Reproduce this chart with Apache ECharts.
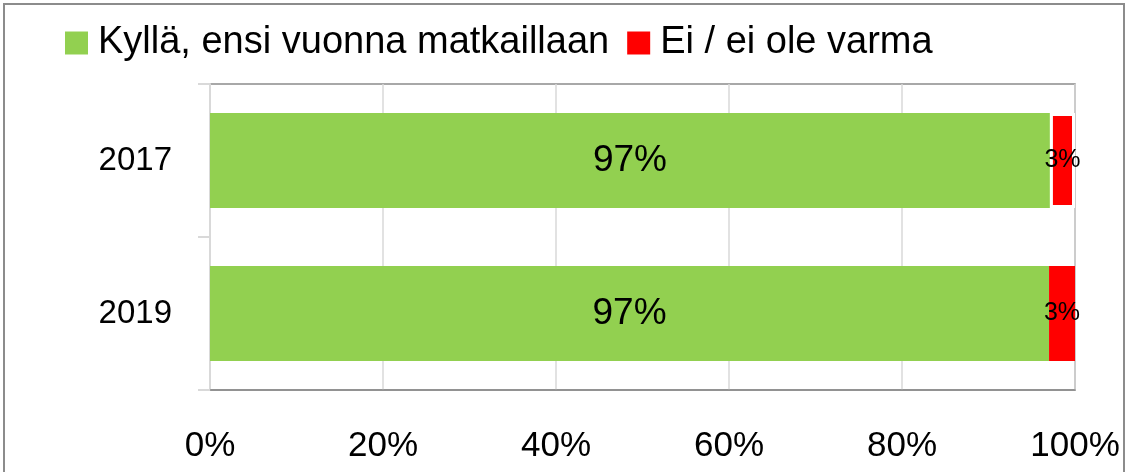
<!DOCTYPE html>
<html>
<head>
<meta charset="utf-8">
<script src="https://cdn.jsdelivr.net/npm/echarts@6/dist/echarts.min.js"></script>
<style>
html,body{margin:0;padding:0;background:#fff;}
#frame{position:absolute;left:3px;top:3px;width:1122px;height:480px;border:2px solid #8c8c8c;box-sizing:border-box;}
#chart{position:absolute;left:0;top:0;width:1130px;height:472px;}
</style>
</head>
<body>
<div id="frame"></div>
<div id="chart"></div>
<script>
const categories = ['2017', '2019'];
const seriesNames = ['Kyllä, ensi vuonna matkaillaan', 'Ei / ei ole varma'];
const yesValues = [97.1, 97.0];
const noValues = [2.9, 3.0];
const xTicks = [0, 20, 40, 60, 80, 100];

const FONT = '"Liberation Sans", Arial, sans-serif';
const chart = echarts.init(document.getElementById('chart'));
chart.setOption({
  animation: false,
  textStyle: { fontFamily: FONT },
  legend: {
    left: 60, top: 19,
    itemWidth: 23, itemHeight: 23, itemGap: 18,
    icon: 'rect',
    textStyle: { fontSize: 38, color: '#000', fontFamily: FONT, padding: [0, 0, 0, 5] },
    data: seriesNames
  },
  grid: { left: 210, right: 55, top: 84, bottom: 82, show: true, borderColor: '#8c8c8c', borderWidth: 1.5 },
  xAxis: {
    type: 'value', min: xTicks[0], max: xTicks[xTicks.length - 1], interval: 20,
    axisLine: { show: true, lineStyle: { color: '#8c8c8c', width: 1.5 } },
    axisTick: { show: false },
    splitLine: { show: true, lineStyle: { color: '#d9d9d9', width: 1.5 } },
    axisLabel: { formatter: '{value}%', fontSize: 35, color: '#000', margin: 39, fontFamily: FONT }
  },
  yAxis: {
    type: 'category', data: categories, inverse: true,
    axisLine: { show: true, lineStyle: { color: '#d9d9d9', width: 2 } },
    axisTick: { show: true, length: 12, lineStyle: { color: '#d9d9d9', width: 2 } },
    axisLabel: { fontSize: 33, color: '#000', margin: 38, fontFamily: FONT }
  },
  series: [
    {
      name: seriesNames[0], type: 'bar', stack: 'a', barCategoryGap: '38%',
      itemStyle: { color: '#92d050' },
      label: { show: true, position: 'inside', fontSize: 37, color: '#000', fontFamily: FONT,
        formatter: p => Math.round(p.value) + '%' },
      data: yesValues
    },
    {
      name: seriesNames[1], type: 'bar', stack: 'a', barCategoryGap: '38%',
      itemStyle: { color: '#ff0000' },
      label: { show: true, position: 'inside', fontSize: 25, color: '#000', fontFamily: FONT,
        formatter: p => Math.round(p.value) + '%' },
      data: noValues.map((v, i) => i === 0 ? { value: v, itemStyle: { borderColor: '#fff', borderWidth: 3 } } : v)
    }
  ]
});
</script>
</body>
</html>
